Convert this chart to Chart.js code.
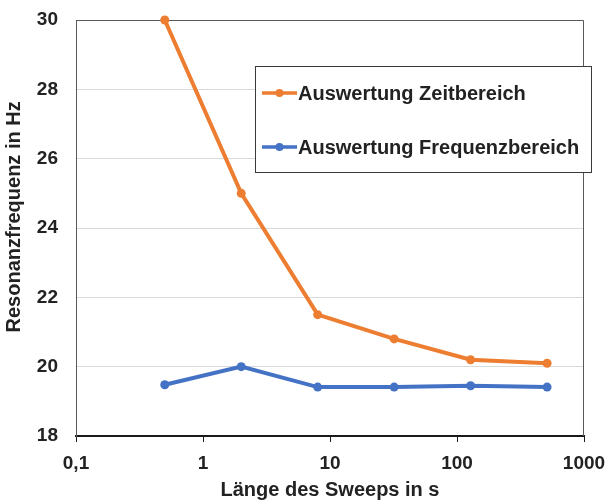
<!DOCTYPE html>
<html>
<head>
<meta charset="utf-8">
<script src="https://cdn.jsdelivr.net/npm/chart.js@4/dist/chart.umd.min.js"></script>
<style>
  html, body { margin: 0; padding: 0; background: #ffffff; }
  #wrap { width: 608px; height: 501px; }
</style>
</head>
<body>
<div id="wrap"><canvas id="c" width="608" height="501"></canvas></div>
<script>
// Sweep lengths in seconds (log axis) and the resonance frequencies found
const sweepLengths = [0.5, 2, 8, 32, 128, 512];
const zeitbereich = [30, 25, 21.5, 20.8, 20.2, 20.1];
const frequenzbereich = [19.48, 20.0, 19.41, 19.41, 19.45, 19.41];

const seriesLabels = ['Auswertung Zeitbereich', 'Auswertung Frequenzbereich'];
const xTickValues = [0.1, 1, 10, 100, 1000];
const xTickLabels = ['0,1', '1', '10', '100', '1000'];
const yTickValues = [18, 20, 22, 24, 26, 28, 30];

const FONT = '"Liberation Sans", Arial, sans-serif';
const TEXT = '#222222';
const ORANGE = '#ED7D31';
const BLUE = '#4472C4';
const FRAME = '#5a5a5a';

function toPoints(xs, ys) {
  return xs.map((x, i) => ({ x: x, y: ys[i] }));
}

// Keep the axes from reserving extra room for overhanging end labels
function noLabelPadding(scale) {
  scale.paddingLeft = 0;
  scale.paddingRight = 0;
  scale.paddingTop = 0;
  scale.paddingBottom = 0;
}

// Outline of the plot area (top and right edges) plus the boxed legend
const framePlugin = {
  id: 'frame',
  beforeDatasetsDraw(chart) {
    const { ctx, chartArea: a } = chart;
    ctx.save();
    ctx.strokeStyle = FRAME;
    ctx.lineWidth = 1;
    ctx.beginPath();
    ctx.moveTo(a.left + 0.5, a.top + 0.5);
    ctx.lineTo(a.right - 0.5, a.top + 0.5);
    ctx.lineTo(a.right - 0.5, a.bottom);
    ctx.stroke();
    ctx.restore();
  },
  afterDraw(chart) {
    const { ctx } = chart;
    const box = { x: 255, y: 66, w: 337, h: 107 };
    ctx.save();
    ctx.fillStyle = '#ffffff';
    ctx.fillRect(box.x, box.y, box.w, box.h);
    ctx.strokeStyle = '#3a3a3a';
    ctx.lineWidth = 1;
    ctx.strokeRect(box.x + 0.5, box.y + 0.5, box.w - 1, box.h - 1);
    const rows = [93, 147];
    chart.data.datasets.forEach((ds, i) => {
      const y = rows[i];
      ctx.strokeStyle = ds.borderColor;
      ctx.lineWidth = 3.5;
      ctx.beginPath();
      ctx.moveTo(262, y);
      ctx.lineTo(297, y);
      ctx.stroke();
      ctx.fillStyle = ds.backgroundColor;
      ctx.beginPath();
      ctx.arc(279.5, y, 4, 0, Math.PI * 2);
      ctx.fill();
      ctx.fillStyle = TEXT;
      ctx.font = 'bold 20px ' + FONT;
      ctx.textBaseline = 'alphabetic';
      ctx.textAlign = 'left';
      ctx.fillText(ds.label, 298, y + 7);
    });
    ctx.restore();
  }
};

new Chart(document.getElementById('c'), {
  type: 'line',
  data: {
    datasets: [
      {
        label: seriesLabels[0],
        data: toPoints(sweepLengths, zeitbereich),
        borderColor: ORANGE,
        backgroundColor: ORANGE,
        borderWidth: 4,
        pointRadius: 4.5,
        pointHoverRadius: 4.5,
        pointBorderWidth: 0,
        tension: 0,
        clip: false
      },
      {
        label: seriesLabels[1],
        data: toPoints(sweepLengths, frequenzbereich),
        borderColor: BLUE,
        backgroundColor: BLUE,
        borderWidth: 4,
        pointRadius: 4.5,
        pointHoverRadius: 4.5,
        pointBorderWidth: 0,
        tension: 0,
        clip: false
      }
    ]
  },
  options: {
    responsive: false,
    animation: false,
    events: [],
    layout: { padding: { left: 0, right: 24, top: 20, bottom: 0 } },
    plugins: {
      legend: { display: false },
      tooltip: { enabled: false }
    },
    scales: {
      x: {
        type: 'logarithmic',
        min: 0.1,
        max: 1000,
        afterBuildTicks(scale) {
          scale.ticks = xTickValues.map(v => ({ value: v }));
        },
        afterFit(scale) { scale.height = 65; noLabelPadding(scale); },
        ticks: {
          autoSkip: false,
          maxRotation: 0,
          padding: 10,
          color: TEXT,
          font: { family: FONT, size: 19, weight: 'bold' },
          callback: (v, i) => xTickLabels[i]
        },
        grid: {
          drawOnChartArea: false,
          drawTicks: true,
          tickLength: 6,
          color: '#1a1a1a',
          lineWidth: 1
        },
        border: { display: true, color: '#1a1a1a', width: 2 },
        title: {
          display: true,
          text: 'Länge des Sweeps in s',
          color: TEXT,
          font: { family: FONT, size: 20, weight: 'bold' },
          padding: { top: 0, bottom: -1 }
        }
      },
      y: {
        min: 18,
        max: 30,
        afterBuildTicks(scale) {
          scale.ticks = yTickValues.map(v => ({ value: v }));
        },
        afterFit(scale) { scale.width = 76; noLabelPadding(scale); },
        ticks: {
          padding: 18,
          color: TEXT,
          font: { family: FONT, size: 19, weight: 'bold' }
        },
        grid: {
          drawTicks: false,
          color: '#d9d9d9',
          lineWidth: 1
        },
        border: { display: true, color: FRAME, width: 1 },
        title: {
          display: true,
          // leading spaces lift the rotated title a little above the axis centre
          text: '    Resonanzfrequenz in Hz',
          color: TEXT,
          font: { family: FONT, size: 20, weight: 'bold' },
          padding: { top: 2, bottom: 0 }
        }
      }
    }
  },
  plugins: [framePlugin]
});
</script>
</body>
</html>
